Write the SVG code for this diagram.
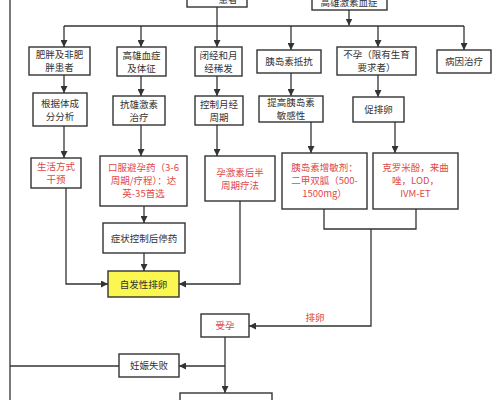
<svg xmlns="http://www.w3.org/2000/svg" width="500" height="400" viewBox="0 0 500 400">
<defs>
<marker id="ah" viewBox="0 0 10 10" refX="10" refY="5" markerWidth="7" markerHeight="7" markerUnits="userSpaceOnUse" orient="auto">
<path d="M0,0 L10,5 L0,10 z" fill="#333"/>
</marker>
<style>
.b{fill:#fff;stroke:#333;stroke-width:1.4}
.y{fill:#fbf650;stroke:#333;stroke-width:1.4}
.t{font-family:"Noto Sans CJK SC","Liberation Sans",sans-serif;font-size:9.5px;fill:#333;text-anchor:middle}
.r{fill:#e04848}
.c{fill:none;stroke:#333;stroke-width:1.3}
.a{marker-end:url(#ah)}
</style>
</defs>
<rect width="500" height="400" fill="#fff"/>
<g id="connectors">
<path class="c" d="M10,0 V400"/>
<path class="c a" d="M217,7 V47"/>
<path class="c a" d="M349,10 V25.5"/>
<path class="c" d="M64,26 H464"/>
<path class="c a" d="M64,26 V47"/>
<path class="c a" d="M141,26 V47"/>
<path class="c a" d="M291,26 V50"/>
<path class="c a" d="M378,26 V47"/>
<path class="c a" d="M464,26 V50"/>
<path class="c a" d="M64,75 V93"/>
<path class="c a" d="M141,76 V96"/>
<path class="c a" d="M217,76 V96"/>
<path class="c a" d="M291,73 V96"/>
<path class="c a" d="M378,75 V97"/>
<path class="c a" d="M64,126 V158"/>
<path class="c a" d="M141,125 V156"/>
<path class="c a" d="M217,125 V156"/>
<path class="c a" d="M311,122 V153"/>
<path class="c a" d="M395,122 V153"/>
<path class="c a" d="M144,206 V223"/>
<path class="c a" d="M144,253 V271"/>
<path class="c a" d="M66,188 V284 H108"/>
<path class="c a" d="M240,201 V284 H179"/>
<path class="c" d="M324,209 V229 H416 V209"/>
<path class="c a" d="M371,229 V326 H249"/>
<text class="t r" x="315" y="321">排卵</text>
<path class="c a" d="M225,337 V393"/>
<path class="c a" d="M225,366 H179"/>
<path class="c" d="M119,366 H10"/>
</g>
<g id="top-left"><rect class="b" x="187" y="-20" width="60" height="27"/><text class="t" x="228" y="3">患者</text></g>
<g id="top-right"><rect class="b" x="312" y="-20" width="75" height="30"/><text class="t" x="349" y="6">高雄激素血症</text></g>
<g id="n1"><rect class="b" x="29" y="47" width="61" height="28"/><text class="t" x="59.5" y="58">肥胖及非肥</text><text class="t" x="59.5" y="71">胖患者</text></g>
<g id="n2"><rect class="b" x="117" y="47" width="49" height="29"/><text class="t" x="141.5" y="58.5">高雄血症</text><text class="t" x="141.5" y="71.5">及体征</text></g>
<g id="n3"><rect class="b" x="195" y="47" width="47" height="29"/><text class="t" x="218.5" y="58.5">闭经和月</text><text class="t" x="218.5" y="71.5">经稀发</text></g>
<g id="n4"><rect class="b" x="257" y="50" width="64" height="23"/><text class="t" x="289" y="65">胰岛素抵抗</text></g>
<g id="n5"><rect class="b" x="337" y="47" width="79" height="28"/><text class="t" x="376.5" y="58">不孕（限有生育</text><text class="t" x="376.5" y="71">要求者）</text></g>
<g id="n6"><rect class="b" x="437" y="50" width="54" height="23"/><text class="t" x="464" y="65">病因治疗</text></g>
<g id="n7"><rect class="b" x="33" y="93" width="54" height="33"/><text class="t" x="60" y="106.5">根据体成</text><text class="t" x="60" y="119.5">分分析</text></g>
<g id="n8"><rect class="b" x="113" y="96" width="52" height="29"/><text class="t" x="139" y="107.5">抗雄激素</text><text class="t" x="139" y="120.5">治疗</text></g>
<g id="n9"><rect class="b" x="195" y="96" width="48" height="29"/><text class="t" x="219" y="107.5">控制月经</text><text class="t" x="219" y="120.5">周期</text></g>
<g id="n10"><rect class="b" x="259" y="96" width="64" height="26"/><text class="t" x="291" y="106">提高胰岛素</text><text class="t" x="291" y="119">敏感性</text></g>
<g id="n11"><rect class="b" x="353" y="97" width="51" height="25"/><text class="t" x="378.5" y="113">促排卵</text></g>
<g id="n12"><rect class="b" x="31" y="158" width="50" height="30"/><text class="t r" x="56" y="170">生活方式</text><text class="t r" x="56" y="183">干预</text></g>
<g id="n13"><rect class="b" x="100" y="156" width="87" height="50"/><text class="t r" x="143.5" y="171.4">口服避孕药（3-6</text><text class="t r" x="143.5" y="184.4">周期/疗程）：达</text><text class="t r" x="143.5" y="197.4">英-35首选</text></g>
<g id="n14"><rect class="b" x="205" y="156" width="70" height="45"/><text class="t r" x="240" y="175.5">孕激素后半</text><text class="t r" x="240" y="188.5">周期疗法</text></g>
<g id="n15"><rect class="b" x="282" y="153" width="85" height="56"/><text class="t r" x="324.5" y="171.4">胰岛素增敏剂：</text><text class="t r" x="324.5" y="184.4">二甲双胍（500-</text><text class="t r" x="324.5" y="197.4">1500mg）</text></g>
<g id="n16"><rect class="b" x="373" y="153" width="85" height="56"/><text class="t r" x="415.5" y="171.4">克罗米酚，来曲</text><text class="t r" x="415.5" y="184.4">唑，LOD，</text><text class="t r" x="415.5" y="197.4">IVM-ET</text></g>
<g id="n17"><rect class="b" x="103" y="223" width="82" height="30"/><text class="t" x="144" y="241.5">症状控制后停药</text></g>
<g id="n18"><rect class="y" x="108" y="271" width="71" height="26"/><text class="t" x="143.5" y="287.5">自发性排卵</text></g>
<g id="n19"><rect class="b" x="201" y="314" width="48" height="23"/><text class="t r" x="225" y="329">受孕</text></g>
<g id="n20"><rect class="b" x="119" y="354" width="60" height="23"/><text class="t" x="149" y="369">妊娠失败</text></g>
<g id="n21"><rect class="b" x="180" y="393" width="92" height="20"/></g>
</svg>
